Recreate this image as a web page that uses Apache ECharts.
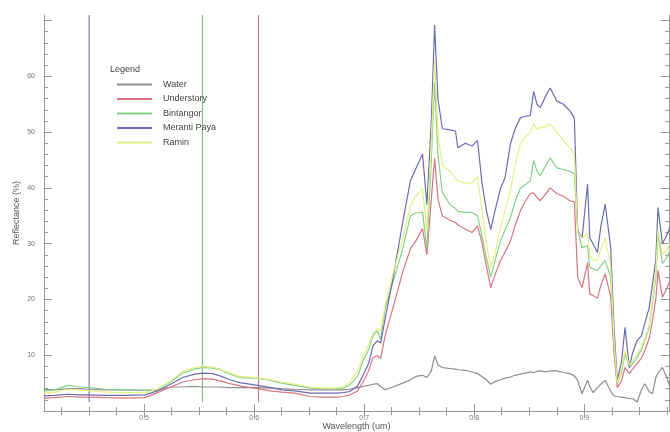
<!DOCTYPE html>
<html>
<head>
<meta charset="utf-8">
<script src="https://cdn.jsdelivr.net/npm/echarts@6/dist/echarts.min.js"></script>
<style>html,body{margin:0;padding:0;background:#fff}#c{width:670px;height:432px}</style>
</head>
<body>
<div id="c"></div>
<script>
const wavelengths = [0.409,0.419,0.431,0.442,0.450,0.465,0.483,0.501,
0.512,0.524,0.535,0.546,0.554,0.562,0.569,0.578,0.587,
0.603,0.615,0.625,0.637,0.651,0.662,0.674,0.681,0.687,0.694,
0.699,0.704,0.708,0.712,0.715,0.719,
0.726,0.735,0.742,0.747,0.753,0.757,0.761,0.764,0.767,0.771,
0.778,0.783,0.785,0.792,0.798,0.803,0.807,0.811,0.815,
0.819,0.824,0.828,0.833,0.837,0.842,0.846,0.851,0.854,0.857,0.860,0.865,0.869,0.875,0.881,0.887,0.891,
0.894,0.898,0.903,0.905,0.908,0.912,0.915,0.919,0.924,0.927,
0.930,0.934,0.937,0.941,0.944,0.948,0.952,0.955,0.959,0.962,0.965,0.967,0.971,0.975,0.978];

const water = [3.9,3.8,4.0,4.0,3.9,3.8,3.8,3.7,
3.7,4.3,4.3,4.4,4.3,4.3,4.3,4.2,4.2,
4.2,4.1,4.0,3.9,3.8,3.8,3.8,3.8,3.9,4.2,
4.4,4.6,4.8,4.9,4.4,3.8,
4.3,5.0,5.6,6.2,6.4,6.0,7.2,9.9,8.3,7.8,
7.6,7.5,7.4,7.3,7.0,6.7,6.2,5.6,4.8,
5.3,5.6,5.9,6.1,6.4,6.6,6.8,7.0,6.9,7.1,7.2,7.0,7.2,7.2,6.9,6.7,6.3,
5.5,3.1,5.5,4.4,3.3,4.2,4.8,5.5,3.5,2.7,
2.6,2.5,2.4,2.2,2.2,1.6,3.8,4.9,3.5,3.1,6.0,6.8,7.8,6.0,4.2];

const understory = [2.3,2.4,2.6,2.5,2.5,2.4,2.3,2.4,
3.3,4.3,5.2,5.6,5.8,5.7,5.4,4.9,4.5,
4.0,3.6,3.4,3.2,2.6,2.5,2.5,2.6,2.9,3.6,
5.2,7.2,9.6,9.9,9.4,13.5,
18.4,24.9,29.1,30.5,32.7,28.0,38.0,45.3,38.0,35.0,
34.2,33.8,33.4,32.6,32.0,33.2,30.2,26.0,22.1,
24.5,27.0,28.5,30.5,33.2,35.9,37.5,39.0,39.1,38.3,37.7,38.9,40.0,39.0,38.5,37.7,37.5,
24.0,22.1,26.6,21.0,20.7,20.2,22.5,24.6,20.5,10.5,
4.2,5.5,7.8,6.7,7.5,8.5,9.5,10.8,13.0,16.2,20.0,25.2,20.4,22.0,23.4];

const bintangor = [3.6,3.8,4.6,4.3,4.2,3.9,3.8,3.7,
3.8,5.2,6.8,7.5,7.8,7.7,7.4,6.6,6.0,
5.9,5.5,5.0,4.6,4.1,4.0,4.0,4.1,4.7,6.2,
9.0,11.0,13.5,14.4,12.8,18.4,
23.0,29.1,35.0,35.5,35.6,29.1,45.0,59.0,46.0,39.2,
37.0,36.3,35.8,35.6,35.6,35.0,31.4,27.5,24.0,
27.0,30.5,32.5,34.7,37.5,40.0,40.5,41.3,44.9,43.0,42.2,44.0,45.4,43.6,43.3,43.0,42.5,
32.3,29.3,29.6,25.7,25.5,25.2,26.0,27.0,24.0,12.0,
4.9,7.0,10.3,7.8,8.5,9.6,11.0,12.6,15.0,19.3,24.0,31.8,26.4,27.5,28.8];

const merantiPaya = [2.7,2.8,3.0,2.9,2.9,2.8,2.8,2.9,
3.6,4.8,6.0,6.6,6.8,6.7,6.3,5.6,5.1,
4.6,4.2,3.8,3.6,3.2,3.2,3.2,3.3,3.5,4.5,
6.4,8.5,11.7,12.6,12.2,16.5,
23.7,33.8,41.3,43.5,46.1,37.0,52.0,69.2,56.0,50.6,
50.4,50.2,47.2,48.0,47.5,48.5,40.9,36.0,32.5,
36.0,40.0,41.8,48.0,50.5,52.6,52.8,53.0,57.3,55.0,54.4,56.5,57.9,55.6,55.0,53.8,52.5,
32.3,31.0,40.7,31.0,30.0,28.4,33.0,37.1,29.3,15.0,
5.5,9.0,15.0,7.8,10.5,12.6,13.5,15.7,18.5,22.8,27.0,36.5,30.0,31.5,33.0];

const ramin = [3.2,3.4,3.9,3.7,3.6,3.4,3.3,3.3,
3.9,5.4,7.1,7.8,8.0,7.9,7.5,6.8,6.2,
6.0,5.6,5.2,4.8,4.3,4.1,4.1,4.3,5.2,7.2,
9.9,11.8,14.0,14.8,14.4,19.0,
24.5,31.0,36.8,38.5,39.9,32.0,48.0,63.0,50.0,44.0,
43.0,41.7,41.2,40.8,40.9,42.0,36.0,30.0,25.7,
28.5,33.0,36.0,39.5,44.0,48.0,49.0,50.0,51.5,50.5,50.8,51.0,51.5,50.0,48.5,47.2,46.0,
32.0,31.0,31.8,28.0,27.0,27.0,29.0,31.0,26.0,13.0,
5.0,7.5,10.8,8.2,9.0,10.2,11.5,13.0,15.5,20.0,25.0,32.5,28.0,29.0,30.0];

const seriesNames = ['Water','Understory','Bintangor','Meranti Paya','Ramin'];
const seriesColors = ['#8e8e8e','#d97482','#86d086','#6c6cb0','#e6ef86'];
const seriesValues = [water, understory, bintangor, merantiPaya, ramin];

const bandLines = [0.450, 0.553, 0.604];
const bandColors = ['#6060ac','#6cc06c','#cc6a7c'];
const bandRange = [1.6, 71];

const xMajorTicks = [0.5, 0.6, 0.7, 0.8, 0.9];
const xMinorTicks = [0.425,0.45,0.475,0.525,0.55,0.575,0.625,0.65,0.675,0.725,0.75,0.775,0.825,0.85,0.875,0.925,0.95,0.975];
const yMajorTicks = [10, 20, 30, 40, 50, 60, 70];
const yMinorTicks = [2,4,6,8,12,14,16,18,22,24,26,28,32,34,36,38,42,44,46,48,52,54,56,58,62,64,66,68];
const yLabels = [10, 20, 30, 40, 50, 60];

const X_MIN = 0.409, X_MAX = 0.977, Y_MIN = 0, Y_MAX = 71;
const font = 'Liberation Sans, Arial, sans-serif';
const axisGray = '#9a9a9a';

function xAxis(pos, ticks, len, withLabels, withLine, name) {
  return {
    type: 'value', position: pos, min: X_MIN, max: X_MAX, gridIndex: 0,
    name: name || '', nameLocation: 'middle', nameGap: 11, nameMoveOverlap: false,
    nameTextStyle: {fontSize: 9, color: '#555', fontFamily: font},
    axisLine: {show: withLine, lineStyle: {color: axisGray, width: 1}},
    axisTick: {show: true, inside: true, length: len, customValues: ticks, lineStyle: {color: axisGray}},
    axisLabel: withLabels ? {show: true, customValues: ticks, formatter: v => v.toFixed(1), fontSize: 7, color: '#777', margin: 4, fontFamily: font} : {show: false},
    splitLine: {show: false}
  };
}
function yAxis(pos, ticks, len, withLabels, withLine, name) {
  return {
    type: 'value', position: pos, min: Y_MIN, max: Y_MAX, gridIndex: 0,
    name: name || '', nameLocation: 'middle', nameGap: 23, nameMoveOverlap: false,
    nameTextStyle: {fontSize: 9, color: '#555', fontFamily: font},
    axisLine: {show: withLine, lineStyle: {color: axisGray, width: 1}},
    axisTick: {show: true, inside: true, length: len, customValues: ticks, lineStyle: {color: axisGray}},
    axisLabel: withLabels ? {show: true, customValues: yLabels, fontSize: 7, color: '#777', margin: 9, fontFamily: font} : {show: false},
    splitLine: {show: false}
  };
}

const series = seriesNames.map((n, i) => ({
  name: n, type: 'line', xAxisIndex: 0, yAxisIndex: 0,
  data: wavelengths.map((w, k) => [w, seriesValues[i][k]]),
  showSymbol: false, symbol: 'none', clip: true,
  lineStyle: {color: seriesColors[i], width: 1.2},
  itemStyle: {color: seriesColors[i]},
  z: 3 + i
}));
bandLines.forEach((b, i) => {
  series.push({
    name: 'band' + i, type: 'line', xAxisIndex: 0, yAxisIndex: 0,
    data: [[b, bandRange[0]], [b, bandRange[1]]],
    showSymbol: false, symbol: 'none', silent: true,
    lineStyle: {color: bandColors[i], width: 1}, z: 2
  });
});

const chart = echarts.init(document.getElementById('c'), null, {renderer: 'canvas'});
chart.setOption({
  animation: false,
  backgroundColor: '#fff',
  textStyle: {fontFamily: font},
  title: {text: 'Legend', left: 105, top: 60, textStyle: {fontSize: 9, fontWeight: 'normal', color: '#444', fontFamily: font}},
  legend: {
    data: seriesNames, orient: 'vertical', left: 112, top: 74,
    itemWidth: 35, itemHeight: 2, itemGap: 3.5, icon: 'rect',
    textStyle: {fontSize: 9, color: '#444', lineHeight: 11, fontFamily: font, padding: [0, 0, 0, 6]},
    selectedMode: false
  },
  grid: {left: 44, right: 1, top: 15, bottom: 21, containLabel: false, outerBoundsMode: 'none', show: false},
  xAxis: [
    xAxis('bottom', xMajorTicks, 7, true, true, 'Wavelength (um)'),
    xAxis('bottom', xMinorTicks, 4, false, false),
    xAxis('top', xMajorTicks, 7, false, true),
    xAxis('top', xMinorTicks, 4, false, false)
  ],
  yAxis: [
    yAxis('left', yMajorTicks, 8, true, true, 'Reflectance (%)'),
    yAxis('left', yMinorTicks, 4, false, false),
    yAxis('right', yMajorTicks, 8, false, true),
    yAxis('right', yMinorTicks, 4, false, false)
  ],
  series: series
});
</script>
</body>
</html>
